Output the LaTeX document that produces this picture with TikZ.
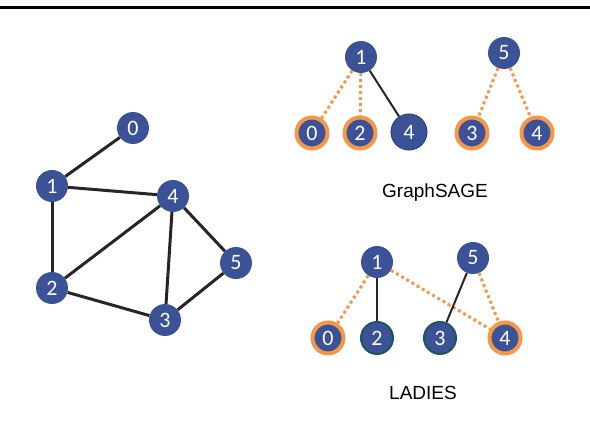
\documentclass[tikz,border=0pt]{standalone}
\usepackage{fontspec}
\setmainfont{Liberation Sans}
\newfontfamily\numfont{Carlito}
\usepackage{xcolor}
\definecolor{nodeblue}{RGB}{59,82,151}
\definecolor{ringorange}{RGB}{247,150,70}
\definecolor{tealedge}{RGB}{24,88,92}
\definecolor{edgegray}{RGB}{38,38,38}

\begin{document}
\begin{tikzpicture}[x=1pt,y=-1pt,
  vtx/.style={circle,fill=nodeblue,text=white,inner sep=0pt,minimum size=32pt,font=\numfont\fontsize{22}{22}\selectfont},
  ring/.style={vtx,draw=ringorange,line width=4pt,minimum size=31pt},
  tealv/.style={vtx,draw=tealedge,line width=2pt,minimum size=32pt},
  bigv/.style={vtx,draw=nodeblue!80!black,line width=1pt,minimum size=36pt},
  gedge/.style={draw=edgegray,line width=3pt},
  sedge/.style={draw=edgegray,line width=2pt},
  dedge/.style={draw=ringorange,line width=3pt,dash pattern=on 3pt off 3pt}]
\useasboundingbox (0,0) rectangle (590,436);
\draw [line width=3pt] (0,8) -- (590,8);
% input graph
\node [vtx] (l0) at (133,128) {0};
\node [vtx] (l1) at (52,186) {1};
\node [vtx] (l4) at (173,196) {4};
\node [vtx] (l2) at (52,288) {2};
\node [vtx] (l5) at (236,263) {5};
\node [vtx] (l3) at (165,320) {3};
\draw [gedge] (l1) -- (l0);
\draw [gedge] (l1) -- (l4);
\draw [gedge] (l1) -- (l2);
\draw [gedge] (l2) -- (l4);
\draw [gedge] (l2) -- (l3);
\draw [gedge] (l4) -- (l3);
\draw [gedge] (l4) -- (l5);
\draw [gedge] (l5) -- (l3);
% GraphSAGE
\node [vtx] (g1) at (361,57) {1};
\node [vtx] (g5) at (504,53) {5};
\node [ring] (g0) at (312,133) {0};
\node [ring] (g2) at (360,133) {2};
\node [bigv] (g4) at (409,132) {4};
\node [ring] (g3) at (472,133) {3};
\node [ring] (g4b) at (537,133) {4};
\draw [dedge] (g1) -- (g0);
\draw [dedge] (g1) -- (g2);
\draw [sedge] (g1) -- (g4);
\draw [dedge] (g5) -- (g3);
\draw [dedge] (g5) -- (g4b);
\node [font=\fontsize{19}{19}\selectfont] (gname) at (435,193) {GraphSAGE};
% LADIES
\node [vtx] (a1) at (377,262) {1};
\node [vtx] (a5) at (473,258) {5};
\node [ring] (a0) at (328,338) {0};
\node [tealv] (a2) at (377,338) {2};
\node [tealv] (a3) at (440,338) {3};
\node [ring] (a4) at (505,338) {4};
\draw [dedge] (a1) -- (a0);
\draw [sedge] (a1) -- (a2);
\draw [dedge] (a1) -- (a4);
\draw [sedge] (a5) -- (a3);
\draw [dedge] (a5) -- (a4);
\node [font=\fontsize{19}{19}\selectfont] (aname) at (423,393) {LADIES};
\end{tikzpicture}
\end{document}
